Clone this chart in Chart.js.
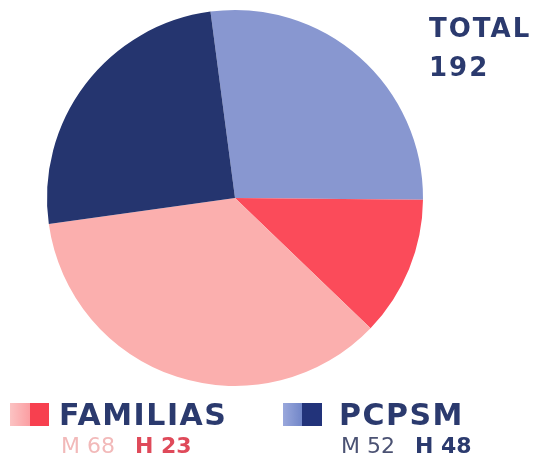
<!DOCTYPE html>
<html>
<head>
<meta charset="utf-8">
<script src="https://cdn.jsdelivr.net/npm/chart.js@4/dist/chart.umd.min.js"></script>
<style>
  html, body { margin: 0; padding: 0; background: #fff; }
  #wrap { position: relative; width: 534px; height: 460px; overflow: hidden; font-family: "DejaVu Sans", sans-serif; }
  #pie { position: absolute; left: 0; top: 0; }
  .txt { position: absolute; line-height: 1; white-space: nowrap; }
  .big { font-weight: bold; font-size: 30px; letter-spacing: 1.5px; color: #2b3a6e; }
  .tot { font-weight: bold; font-size: 26px; letter-spacing: 2px; color: #2b3a6e; }
  .sub { font-size: 22px; }
  .sw { position: absolute; height: 23px; top: 403px; }
</style>
</head>
<body>
<div id="wrap">
  <canvas id="pie" width="534" height="460"></canvas>
</div>
<script>
// grupos y valores (M = mujeres, H = hombres)
const groups = ['FAMILIAS', 'PCPSM'];
const mujeres = [68, 52];
const hombres = [23, 48];
const total = 192;

// orden de los sectores en sentido horario desde arriba
const sliceLabels = ['PCPSM M', 'FAMILIAS H', 'FAMILIAS M', 'PCPSM H'];
const sliceValues = [mujeres[1], hombres[0], mujeres[0], hombres[1]];
const sliceColors = ['#8897d0', '#fb4b5a', '#fbafae', '#25356f'];

new Chart(document.getElementById('pie'), {
  type: 'pie',
  data: {
    labels: sliceLabels,
    datasets: [{
      data: sliceValues,
      backgroundColor: sliceColors,
      borderWidth: 0
    }]
  },
  options: {
    responsive: false,
    animation: false,
    rotation: -7.5,
    layout: { padding: { left: 47, top: 10, right: 111, bottom: 74 } },
    plugins: {
      legend: { display: false },
      tooltip: { enabled: false }
    }
  }
});

// leyenda y total como texto html
const wrap = document.getElementById('wrap');
function addText(cls, html, left, top, color) {
  const d = document.createElement('div');
  d.className = 'txt ' + cls;
  d.style.left = left + 'px';
  d.style.top = top + 'px';
  if (color) d.style.color = color;
  d.innerHTML = html;
  wrap.appendChild(d);
}
function addSwatch(left, width, color) {
  const s = document.createElement('div');
  s.className = 'sw';
  s.style.left = left + 'px';
  s.style.width = width + 'px';
  s.style.background = color;
  wrap.appendChild(s);
}

addText('tot', 'TOTAL', 429, 15);
addText('tot', String(total), 429, 54);

// FAMILIAS
addSwatch(10, 20, 'linear-gradient(to right, #fbc3c3, #fb9ea2)');
addSwatch(30, 19, '#f7404f');
addText('big', groups[0], 59, 400);
addText('sub', '<span style="color:#f2b9b9">M ' + mujeres[0] + '</span>' +
  '<span style="color:#df4a5a;font-weight:bold;margin-left:20px">H ' + hombres[0] + '</span>', 61, 435);

// PCPSM
addSwatch(283, 19, 'linear-gradient(to right, #9aa8dc, #7186c8)');
addSwatch(302, 20, '#22337a');
addText('big', groups[1], 339, 400);
addText('sub', '<span style="color:#4b5273">M ' + mujeres[1] + '</span>' +
  '<span style="color:#2b3a6e;font-weight:bold;margin-left:20px">H ' + hombres[1] + '</span>', 341, 435);
</script>
</body>
</html>
